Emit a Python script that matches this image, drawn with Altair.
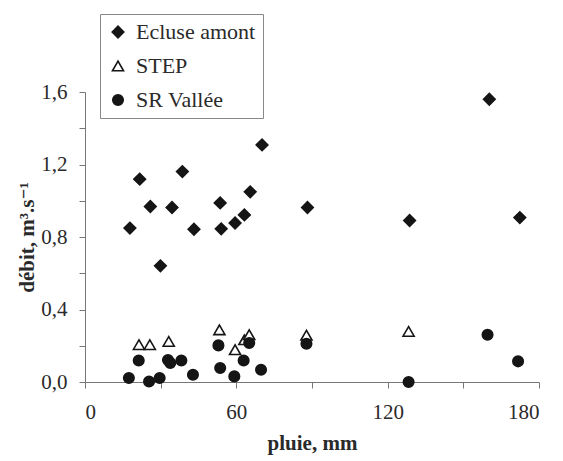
import altair as alt
import pandas as pd

# Ecluse amont (diamonds)
ecluse_x = [17.8, 21.7, 25.9, 29.9, 34.5, 38.6, 43.2, 53.6, 54.0, 59.5, 63.2, 65.5, 70.2, 88.2, 128.7, 160.3, 172.4]
ecluse_y = [0.849, 1.119, 0.968, 0.641, 0.963, 1.161, 0.843, 0.988, 0.845, 0.877, 0.922, 1.049, 1.308, 0.963, 0.891, 1.560, 0.907]

# STEP (open triangles)
step_x = [21.4, 25.7, 33.2, 53.3, 59.5, 63.2, 65.1, 87.8, 128.3]
step_y = [0.206, 0.206, 0.224, 0.288, 0.178, 0.233, 0.261, 0.258, 0.279]

# SR Vallée (filled circles)
srv_x = [17.4, 21.3, 25.4, 29.6, 32.9, 33.8, 38.2, 42.8, 52.9, 53.6, 59.2, 62.9, 65.1, 69.8, 87.8, 128.3, 159.6, 171.7]
srv_y = [0.022, 0.119, 0.003, 0.022, 0.121, 0.105, 0.119, 0.040, 0.202, 0.077, 0.031, 0.119, 0.215, 0.068, 0.211, 0.0, 0.261, 0.114]

series = ["Ecluse amont", "STEP", "SR Vallée"]
x_ticks = [0, 30, 60, 90, 120, 150, 180]
y_ticks = [0.0, 0.2, 0.4, 0.6, 0.8, 1.0, 1.2, 1.4, 1.6]

rows = []
for name, xs, ys in [(series[0], ecluse_x, ecluse_y), (series[1], step_x, step_y), (series[2], srv_x, srv_y)]:
    for a, b in zip(xs, ys):
        rows.append({"pluie": a, "debit": b, "serie": name})
df = pd.DataFrame(rows)

FONT = "Liberation Serif, Times New Roman, DejaVu Serif, serif"
INK = "#151515"
TXT = "#2a2a2a"

chart = alt.Chart(df).mark_point(strokeWidth=1.6, opacity=1).encode(
    x=alt.X("pluie:Q", scale=alt.Scale(domain=[0, 180], nice=False),
            axis=alt.Axis(values=x_ticks, title="pluie, mm",
                          labelExpr="datum.value % 60 == 0 ? datum.label : ''",
                          labelFont=FONT, titleFont=FONT, labelFontWeight="normal",
                          labelPadding=13, titlePadding=10)),
    y=alt.Y("debit:Q", scale=alt.Scale(domain=[0, 1.6], nice=False),
            axis=alt.Axis(values=y_ticks, title="débit, m³.s⁻¹",
                          labelExpr="abs(datum.value/0.4 - round(datum.value/0.4)) < 0.01 ? replace(format(datum.value, '.1f'), '.', ',') : ''",
                          labelFont=FONT, titleFont=FONT, labelFontWeight="normal",
                          labelPadding=12, titlePadding=3)),
    shape=alt.Shape("serie:N", scale=alt.Scale(domain=series, range=["diamond", "triangle-up", "circle"]),
                    legend=alt.Legend(title=None)),
    fill=alt.Fill("serie:N", scale=alt.Scale(domain=series, range=[INK, "white", INK]),
                  legend=alt.Legend(title=None)),
    stroke=alt.Stroke("serie:N", scale=alt.Scale(domain=series, range=[INK, INK, INK]),
                      legend=alt.Legend(title=None)),
    size=alt.Size("serie:N", scale=alt.Scale(domain=series, range=[135, 110, 85]),
                  legend=alt.Legend(title=None)),
).properties(
    width=454, height=290,
    autosize=alt.AutoSizeParams(type="none"),
    padding={"left": 77, "top": 84, "right": 10, "bottom": 74},
).configure(
    font=FONT
).configure_view(
    stroke=None
).configure_axis(
    grid=False,
    domainColor="#777777",
    tickColor="#777777",
    tickSize=6,
    labelFont=FONT,
    labelFontSize=21,
    labelColor=TXT,
    titleFont=FONT,
    titleFontSize=21,
    titleFontWeight="bold",
    titleColor=TXT,
).configure_legend(
    orient="none",
    legendX=15,
    legendY=-78,
    strokeColor="#888888",
    fillColor="white",
    padding=7,
    labelFont=FONT,
    labelFontSize=22,
    labelFontWeight="normal",
    labelColor=TXT,
    rowPadding=12,
    symbolStrokeWidth=1.6,
    labelOffset=7,
)

chart.save("out.html", embed_options={"renderer": "svg", "actions": False})
